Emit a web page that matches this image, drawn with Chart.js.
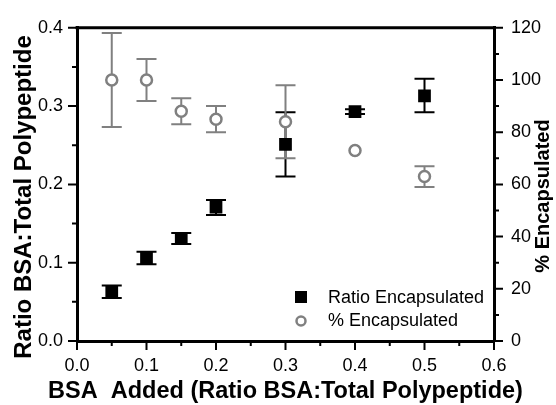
<!DOCTYPE html>
<html>
<head>
<meta charset="utf-8">
<script src="https://cdn.jsdelivr.net/npm/chart.js@4"></script>
<style>
  html, body { margin: 0; padding: 0; background: #fff; }
  #wrap { width: 556px; height: 405px; }
</style>
</head>
<body>
<div id="wrap"><canvas id="chart" width="556" height="405"></canvas></div>
<script>
const FONT = '"Liberation Sans", Arial, sans-serif';
const GRAY = '#808080';

// BSA added (ratio BSA : total polypeptide)
const bsaAdded = [0.05, 0.1, 0.15, 0.2, 0.3, 0.4, 0.5];

// ratio encapsulated (left axis) with error limits
const ratioEnc  = [0.063, 0.106, 0.131, 0.171, 0.251, 0.293, 0.313];
const ratioLow  = [0.055, 0.098, 0.124, 0.161, 0.210, 0.290, 0.292];
const ratioHigh = [0.071, 0.114, 0.138, 0.180, 0.292, 0.296, 0.335];

// % encapsulated (right axis) with error limits
const pctEnc  = [100, 100, 88, 85, 84, 73, 63];
const pctLow  = [82, 92, 83, 80, 70, null, 59];
const pctHigh = [118, 108, 93, 90, 98, null, 67];

const seriesLabels = ['Ratio Encapsulated', '% Encapsulated'];

function pts(ys) {
  return bsaAdded.map((x, i) => ({ x, y: ys[i] }));
}

function drawErrorBars(chart, scaleId, lows, highs, color) {
  const ctx = chart.ctx;
  const xs = chart.scales.x;
  const ys = chart.scales[scaleId];
  ctx.save();
  ctx.strokeStyle = color;
  ctx.lineWidth = 2;
  bsaAdded.forEach((x, i) => {
    if (lows[i] == null) return;
    const px = xs.getPixelForValue(x);
    const lo = ys.getPixelForValue(lows[i]);
    const hi = ys.getPixelForValue(highs[i]);
    ctx.beginPath();
    ctx.moveTo(px, lo); ctx.lineTo(px, hi);
    ctx.moveTo(px - 10, lo); ctx.lineTo(px + 10, lo);
    ctx.moveTo(px - 10, hi); ctx.lineTo(px + 10, hi);
    ctx.stroke();
  });
  ctx.restore();
}

const errorBars = {
  id: 'errorBars',
  beforeDatasetsDraw(chart) {
    drawErrorBars(chart, 'y', ratioLow, ratioHigh, '#000');
    drawErrorBars(chart, 'y1', pctLow, pctHigh, GRAY);
  }
};

// outward ticks (major + minor), top frame line, titles, inner legend
const frame = {
  id: 'frame',
  afterDraw(chart) {
    const ctx = chart.ctx;
    const a = chart.chartArea;
    const { x, y, y1 } = chart.scales;
    ctx.save();
    ctx.strokeStyle = '#000';
    ctx.lineWidth = 3;
    ctx.beginPath();
    ctx.moveTo(a.left - 1.5, a.top);
    ctx.lineTo(a.right + 1.5, a.top);
    ctx.stroke();

    ctx.lineWidth = 2;
    ctx.beginPath();
    for (let i = 0; i <= 12; i++) {
      const px = x.getPixelForValue(i * 0.05);
      const len = i % 2 === 0 ? 9 : 5;
      ctx.moveTo(px, a.bottom); ctx.lineTo(px, a.bottom + len);
    }
    for (let i = 0; i <= 8; i++) {
      const py = y.getPixelForValue(i * 0.05);
      const len = i % 2 === 0 ? 9 : 5;
      ctx.moveTo(a.left, py); ctx.lineTo(a.left - len, py);
    }
    for (let i = 0; i <= 12; i++) {
      const py = y1.getPixelForValue(i * 10);
      const len = i % 2 === 0 ? 9 : 5;
      ctx.moveTo(a.right, py); ctx.lineTo(a.right + len, py);
    }
    ctx.stroke();

    // axis titles
    ctx.fillStyle = '#000';
    ctx.textAlign = 'center';
    ctx.textBaseline = 'middle';
    ctx.font = 'bold 23.5px ' + FONT;
    ctx.fillText('BSA  Added (Ratio BSA:Total Polypeptide)', (a.left + a.right) / 2, 392);

    ctx.save();
    ctx.translate(24, 197);
    ctx.rotate(-Math.PI / 2);
    ctx.font = 'bold 24px ' + FONT;
    ctx.fillText('Ratio BSA:Total Polypeptide', 0, 0);
    ctx.restore();

    ctx.save();
    ctx.translate(543, 196);
    ctx.rotate(-Math.PI / 2);
    ctx.font = 'bold 20px ' + FONT;
    ctx.fillText('% Encapsulated', 0, 0);
    ctx.restore();

    // legend
    ctx.fillStyle = '#000';
    ctx.fillRect(295, 291, 12, 12);
    ctx.beginPath();
    ctx.arc(301, 321, 4.5, 0, Math.PI * 2);
    ctx.fillStyle = '#fff';
    ctx.fill();
    ctx.strokeStyle = GRAY;
    ctx.lineWidth = 2.5;
    ctx.stroke();
    ctx.fillStyle = '#000';
    ctx.textAlign = 'left';
    ctx.font = '18px ' + FONT;
    ctx.fillText(seriesLabels[0], 328, 298);
    ctx.fillText(seriesLabels[1], 328, 321);
    ctx.restore();
  }
};

const tickFont = { family: FONT, size: 18 };

new Chart(document.getElementById('chart'), {
  type: 'scatter',
  data: {
    datasets: [
      {
        label: seriesLabels[0],
        data: pts(ratioEnc),
        yAxisID: 'y',
        pointStyle: 'rect',
        pointRadius: 9,
        backgroundColor: '#000',
        borderColor: '#000',
        borderWidth: 0
      },
      {
        label: seriesLabels[1],
        data: pts(pctEnc),
        yAxisID: 'y1',
        pointStyle: 'circle',
        pointRadius: 5.5,
        backgroundColor: '#fff',
        borderColor: GRAY,
        borderWidth: 2.5
      }
    ]
  },
  options: {
    responsive: false,
    animation: false,
    layout: { padding: { top: 19, left: 0, right: 0, bottom: 0 } },
    plugins: { legend: { display: false }, tooltip: { enabled: false } },
    scales: {
      x: {
        type: 'linear',
        min: 0, max: 0.6,
        afterFit: s => { s.height = 64; },
        grid: { display: false, drawTicks: false },
        border: { display: true, width: 3, color: '#000' },
        ticks: { stepSize: 0.1, padding: 14, color: '#000', font: tickFont, callback: v => v.toFixed(1) }
      },
      y: {
        position: 'left',
        min: 0, max: 0.4,
        afterFit: s => { s.width = 77; },
        grid: { display: false, drawTicks: false },
        border: { display: true, width: 3, color: '#000' },
        ticks: { stepSize: 0.1, padding: 14, color: '#000', font: tickFont, callback: v => v.toFixed(1) }
      },
      y1: {
        position: 'right',
        min: 0, max: 120,
        afterFit: s => { s.width = 62; },
        grid: { display: false, drawTicks: false },
        border: { display: true, width: 3, color: '#000' },
        ticks: { stepSize: 20, padding: 17, color: '#000', font: tickFont }
      }
    }
  },
  plugins: [errorBars, frame]
});
</script>
</body>
</html>
